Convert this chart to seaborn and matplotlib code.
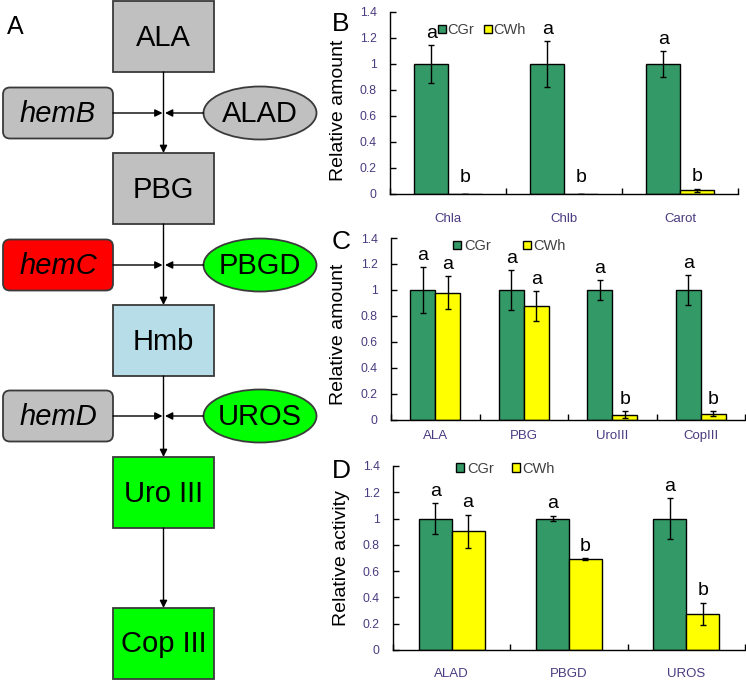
import numpy as np
import pandas as pd
import seaborn as sns
import matplotlib
matplotlib.use("Agg")
import matplotlib.pyplot as plt
from matplotlib.patches import Rectangle, FancyBboxPatch, Ellipse, Patch

# ---------------- data ----------------
groups = ["CGr", "CWh"]

b_cats = ["Chla", "Chlb", "Carot"]
b_cgr = [1.0, 1.0, 1.0]
b_cgr_err = [0.145, 0.175, 0.097]
b_cwh = [0.0, 0.0, 0.03]
b_cwh_err = [0.0, 0.0, 0.012]
b_let_cgr = ["a", "a", "a"]
b_let_cwh = ["b", "b", "b"]

c_cats = ["ALA", "PBG", "UroIII", "CopIII"]
c_cgr = [1.0, 1.0, 1.0, 1.0]
c_cgr_err = [0.175, 0.155, 0.077, 0.115]
c_cwh = [0.98, 0.874, 0.041, 0.049]
c_cwh_err = [0.125, 0.115, 0.026, 0.019]
c_let_cgr = ["a", "a", "a", "a"]
c_let_cwh = ["a", "a", "b", "b"]

d_cats = ["ALAD", "PBGD", "UROS"]
d_cgr = [1.0, 1.0, 1.0]
d_cgr_err = [0.12, 0.022, 0.155]
d_cwh = [0.904, 0.691, 0.276]
d_cwh_err = [0.125, 0.01, 0.085]
d_let_cgr = ["a", "a", "a"]
d_let_cwh = ["a", "b", "b"]

ytick_vals = [0, 0.2, 0.4, 0.6, 0.8, 1.0, 1.2, 1.4]
ytick_labels = ["0", "0.2", "0.4", "0.6", "0.8", "1", "1.2", "1.4"]

# pathway diagram
main_nodes = ["ALA", "PBG", "Hmb", "Uro III", "Cop III"]
main_colors = ["#c0c0c0", "#c0c0c0", "#b7dee8", "#00ff00", "#00ff00"]
gene_nodes = ["hemB", "hemC", "hemD"]
gene_colors = ["#c0c0c0", "#ff0000", "#c0c0c0"]
enz_nodes = ["ALAD", "PBGD", "UROS"]
enz_colors = ["#c0c0c0", "#00ff00", "#00ff00"]

# ---------------- style ----------------
sns.set_theme(style="white")
plt.rcParams["font.family"] = ["Liberation Sans", "DejaVu Sans"]

W, H = 746, 681
fig = plt.figure(figsize=(W / 100, H / 100), dpi=100)

TICKCOL = "#4b3b80"
GREEN = "#339966"
YELLOW = "#ffff00"

# ---------------- panel A: diagram ----------------
ax0 = fig.add_axes([0, 0, 1, 1], zorder=0)
ax0.set_xlim(0, W)
ax0.set_ylim(H, 0)
ax0.axis("off")

EDGE = "#3a3a3a"
cx = 163.5
box_w, box_h = 101, 71
box_tops = [1, 153, 305, 457, 608]
for name, col, top in zip(main_nodes, main_colors, box_tops):
    ax0.add_patch(Rectangle((cx - box_w / 2, top), box_w, box_h, facecolor=col,
                            edgecolor=EDGE, lw=1.3))
    ax0.text(cx, top + box_h / 2 + 1, name, ha="center", va="center", fontsize=21,
             color="black")

junction_y = [113, 265, 416]
for i, jy in enumerate(junction_y):
    gx0, gx1 = 3, 113
    gh = 51
    ax0.add_patch(FancyBboxPatch((gx0 + 7, jy - gh / 2 + 7), gx1 - gx0 - 14, gh - 14,
                                 boxstyle="round,pad=7", facecolor=gene_colors[i],
                                 edgecolor=EDGE, lw=1.3))
    ax0.text((gx0 + gx1) / 2, jy + 1, gene_nodes[i], ha="center", va="center",
             fontsize=21, style="italic", color="black")
    ax0.add_patch(Ellipse((260, jy), 113, 53, facecolor=enz_colors[i],
                          edgecolor=EDGE, lw=1.3))
    ax0.text(260, jy + 1, enz_nodes[i], ha="center", va="center", fontsize=21,
             color="black")
    ax0.annotate("", xy=(cx - 1, jy), xytext=(gx1, jy),
                 arrowprops=dict(arrowstyle="-|>", color="black", lw=1,
                                 mutation_scale=11, shrinkA=0, shrinkB=0))
    ax0.annotate("", xy=(cx + 1.5, jy), xytext=(203.5, jy),
                 arrowprops=dict(arrowstyle="-|>", color="black", lw=1,
                                 mutation_scale=11, shrinkA=0, shrinkB=0))

for k in range(len(box_tops) - 1):
    ax0.annotate("", xy=(cx, box_tops[k + 1]), xytext=(cx, box_tops[k] + box_h),
                 arrowprops=dict(arrowstyle="-|>", color="black", lw=1,
                                 mutation_scale=11, shrinkA=0, shrinkB=0))

ax0.text(15, 27, "A", ha="center", va="center", fontsize=18, color="black")


# ---------------- bar panels ----------------
def bar_panel(rect, cats, cgr, cgr_err, cwh, cwh_err, let_cgr, let_cwh, ylabel,
              label_y, letter, letter_xy, leg_anchor, colspace, xpad, width, tpad):
    ax = fig.add_axes(rect, zorder=2)
    df = pd.DataFrame({
        "cat": cats * 2,
        "group": [groups[0]] * len(cats) + [groups[1]] * len(cats),
        "val": list(cgr) + list(cwh),
    })
    sns.barplot(data=df, x="cat", y="val", hue="group", order=cats, hue_order=groups,
                palette={"CGr": GREEN, "CWh": YELLOW}, edgecolor="black", linewidth=1,
                width=width, errorbar=None, legend=False, ax=ax, saturation=1)
    for cont, vals, errs, lets in zip(ax.containers, [cgr, cwh], [cgr_err, cwh_err],
                                      [let_cgr, let_cwh]):
        xs = [p.get_x() + p.get_width() / 2 for p in cont]
        ax.errorbar(xs, vals, yerr=errs, fmt="none", ecolor="black", elinewidth=1,
                    capsize=2.5, capthick=1)
        for x, v, e, l in zip(xs, vals, errs, lets):
            ax.text(x, max(v + e, 0.04) + 0.025, l, ha="center", va="bottom",
                    fontsize=14, color="black")
    n = len(cats)
    ax.set_xlim(-0.5, n - 0.5)
    ax.set_ylim(0, 1.4)
    ax.set_yticks(ytick_vals)
    ax.set_yticklabels(ytick_labels)
    ax.set_xticks(np.arange(-0.5, n, 1.0), minor=True)
    ax.tick_params(axis="x", which="minor", direction="in", length=4, width=1,
                   color="black", bottom=True)
    ax.tick_params(axis="x", which="major", length=0, pad=xpad, labelsize=9.5,
                   labelcolor=TICKCOL)
    ax.tick_params(axis="y", direction="in", length=4, width=1, color="black",
                   left=True, labelsize=8.8, labelcolor=TICKCOL, pad=9.5)
    ax.set_xlabel("")
    ax.set_ylabel(ylabel, fontsize=14, color="black")
    ax.yaxis.set_label_coords(-0.123, label_y)
    for s in ["top", "right"]:
        ax.spines[s].set_visible(False)
    for s in ["left", "bottom"]:
        ax.spines[s].set_color("black")
        ax.spines[s].set_linewidth(1)
    ax.patch.set_alpha(0)
    handles = [Patch(facecolor=GREEN, edgecolor="black", lw=1, label="CGr"),
               Patch(facecolor=YELLOW, edgecolor="black", lw=1, label="CWh")]
    ax.legend(handles=handles, ncol=2, loc="center left", bbox_to_anchor=leg_anchor,
              frameon=False, fontsize=10.5, handlelength=0.55, handleheight=0.55,
              handletextpad=tpad, columnspacing=colspace, borderaxespad=0,
              borderpad=0, labelcolor="#404040")
    fig.text(letter_xy[0] / W, 1 - letter_xy[1] / H, letter, ha="center", va="center",
             fontsize=19, color="black")
    return ax


bar_panel([390 / W, 1 - 194 / H, 348 / W, 182 / H], b_cats, b_cgr, b_cgr_err, b_cwh,
          b_cwh_err, b_let_cgr, b_let_cwh, "Relative amount", 0.46, "B", (341, 24),
          (0.137, 0.9), 0.7, 14, 0.58, 0.1)
bar_panel([391 / W, 1 - 420 / H, 354 / W, 182 / H], c_cats, c_cgr, c_cgr_err, c_cwh,
          c_cwh_err, c_let_cgr, c_let_cwh, "Relative amount", 0.47, "C", (341, 242),
          (0.175, 0.955), 2.2, 7, 0.56, 0.2)
bar_panel([393 / W, 1 - 650 / H, 352 / W, 184 / H], d_cats, d_cgr, d_cgr_err, d_cwh,
          d_cwh_err, d_let_cgr, d_let_cwh, "Relative activity", 0.5, "D", (341, 471),
          (0.18, 0.985), 1.2, 13, 0.56, 0.2)

fig.savefig("out.png", dpi=100)
